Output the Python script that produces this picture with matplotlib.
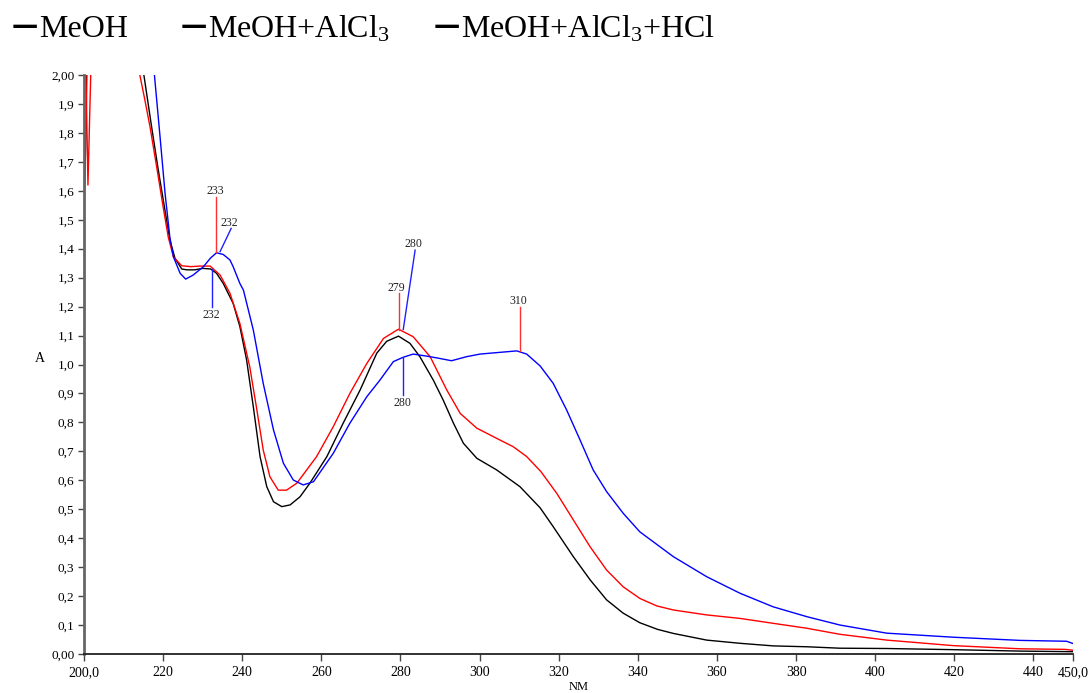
import matplotlib
matplotlib.use("Agg")
import matplotlib.pyplot as plt

plt.rcParams['font.family'] = ['Liberation Serif', 'DejaVu Serif']
plt.rcParams['mathtext.fontset'] = 'custom'
plt.rcParams['mathtext.rm'] = 'Liberation Serif'
plt.rcParams['mathtext.it'] = 'Liberation Serif:italic'
plt.rcParams['mathtext.bf'] = 'Liberation Serif:bold'

# ---- data (wavelength nm, absorbance) ----
meoh_x = [200.0, 200.5, 200.8, 214.0, 215.2, 217.1, 218.8, 220.5, 221.7, 223.0, 224.7, 226.0,
          228.0, 230.0, 232.0, 233.5, 235.2, 237.7, 239.4, 241.1, 242.8, 244.5, 246.2, 247.9,
          250.0, 252.1, 254.6, 257.1, 261.4, 265.5, 269.8, 274.0, 276.5, 279.5, 282.4, 284.9,
          288.3, 290.8, 293.4, 295.9, 299.3, 304.3, 310.2, 315.3, 318.6, 323.7, 328.0, 332.1,
          336.3, 340.5, 345.0, 349.0, 357.4, 365.8, 374.2, 382.7, 391.1, 402.9, 419.7, 436.6, 450.0]
meoh_y = [1.52, 1.80, 2.10, 2.10, 1.994, 1.82, 1.67, 1.53, 1.43, 1.367, 1.330, 1.327,
          1.327, 1.332, 1.330, 1.315, 1.28, 1.211, 1.131, 1.016, 0.854, 0.682, 0.578, 0.526,
          0.509, 0.515, 0.543, 0.590, 0.682, 0.797, 0.912, 1.039, 1.080, 1.098, 1.073, 1.027,
          0.946, 0.877, 0.797, 0.728, 0.676, 0.636, 0.578, 0.505, 0.440, 0.336, 0.255, 0.187,
          0.141, 0.108, 0.085, 0.071, 0.048, 0.037, 0.028, 0.025, 0.020, 0.019, 0.015, 0.010, 0.008]

alcl3_x = [200.2, 200.5, 201.0, 201.7, 202.0, 212.9, 214.2, 215.4, 216.7, 218.4, 220.0, 221.3,
           222.6, 224.7, 227.0, 229.3, 231.9, 234.4, 236.9, 239.4, 241.9, 243.7, 245.3, 247.0,
           249.1, 251.2, 253.8, 258.8, 263.0, 267.2, 271.5, 275.7, 279.5, 283.2, 287.5, 291.7,
           295.1, 299.3, 304.3, 308.5, 311.9, 315.5, 319.5, 323.7, 327.9, 332.1, 336.3, 340.5,
           344.8, 349.0, 357.4, 365.8, 374.2, 382.7, 391.1, 402.9, 419.7, 436.6, 448.0, 450.0]
alcl3_y = [2.30, 2.00, 1.62, 2.00, 2.30, 2.10, 1.994, 1.913, 1.82, 1.68, 1.545, 1.44,
           1.372, 1.341, 1.338, 1.340, 1.340, 1.309, 1.246, 1.142, 0.992, 0.843, 0.705, 0.612,
           0.566, 0.566, 0.590, 0.682, 0.785, 0.900, 1.004, 1.090, 1.122, 1.096, 1.027, 0.912,
           0.831, 0.780, 0.745, 0.716, 0.682, 0.630, 0.555, 0.463, 0.371, 0.290, 0.232, 0.192,
           0.166, 0.152, 0.135, 0.123, 0.106, 0.089, 0.068, 0.048, 0.029, 0.018, 0.016, 0.013]

hcl_x = [200.0, 217.2, 217.8, 219.2, 220.5, 221.7, 222.6, 224.3, 225.7, 227.6, 230.2, 232.0,
         233.5, 235.2, 236.9, 237.7, 239.4, 240.3, 242.8, 245.3, 247.9, 250.4, 252.9, 255.4,
         258.0, 263.0, 267.2, 271.5, 274.8, 278.2, 280.7, 283.2, 286.6, 289.5, 292.9, 296.7,
         300.1, 304.3, 309.4, 311.9, 315.3, 318.6, 322.0, 325.4, 328.7, 332.1, 336.3, 340.5,
         349.0, 357.4, 365.8, 374.2, 382.7, 391.1, 402.9, 419.7, 436.6, 448.4, 450.0]
hcl_y = [2.15, 2.10, 2.00, 1.79, 1.59, 1.44, 1.372, 1.315, 1.295, 1.309, 1.338, 1.368,
         1.386, 1.380, 1.361, 1.338, 1.280, 1.257, 1.119, 0.935, 0.774, 0.659, 0.601, 0.584,
         0.595, 0.693, 0.797, 0.889, 0.946, 1.010, 1.025, 1.036, 1.029, 1.022, 1.013, 1.027,
         1.036, 1.041, 1.047, 1.036, 0.995, 0.935, 0.843, 0.739, 0.636, 0.561, 0.486, 0.422,
         0.336, 0.267, 0.210, 0.163, 0.129, 0.100, 0.072, 0.058, 0.047, 0.044, 0.036]

series_labels = ["MeOH", "MeOH+AlCl$_3$", "MeOH+AlCl$_3$+HCl"]
series_colors = ["black", "#ff0000", "#0000ff"]

x_ticks = [200, 220, 240, 260, 280, 300, 320, 340, 360, 380, 400, 420, 440, 450]
x_tick_labels = ["200,0", "220", "240", "260", "280", "300", "320", "340", "360", "380",
                 "400", "420", "440", "450,0"]
y_ticks = [round(0.1 * i, 1) for i in range(21)]
y_tick_labels = ["0,00"] + ["%d,%d" % (int(v), round(v * 10) % 10) for v in y_ticks[1:-1]] + ["2,00"]

# annotations: (label, color, line pts (x0,y0,x1,y1), text pos)
annots = [
    ("233", "#ff3030", (233.4, 1.39, 233.4, 1.58), (233.1, 1.60)),
    ("232", "#2020ff", (234.4, 1.39, 237.2, 1.47), (236.7, 1.49)),
    ("232", "#2020ff", (232.4, 1.33, 232.4, 1.20), (232.3, 1.171)),
    ("279", "#ff3030", (279.5, 1.12, 279.5, 1.246), (279.0, 1.263)),
    ("280", "#2020ff", (280.7, 1.121, 283.7, 1.395), (283.4, 1.416)),
    ("280", "#2020ff", (280.7, 1.024, 280.7, 0.895), (280.6, 0.866)),
    ("310", "#ff3030", (310.2, 1.048, 310.2, 1.20), (309.8, 1.219)),
]

fig = plt.figure(figsize=(10.92, 6.93), dpi=100)
ax = fig.add_axes([84 / 1092, 39 / 693, (1073 - 84) / 1092, (654 - 75) / 693])

for xs, ys, c in [(meoh_x, meoh_y, series_colors[0]),
                  (alcl3_x, alcl3_y, series_colors[1]),
                  (hcl_x, hcl_y, series_colors[2])]:
    ax.plot(xs, ys, color=c, lw=1.0)

for lab, c, (x0, y0, x1, y1), (tx, ty) in annots:
    ax.plot([x0, x1], [y0, y1], color=c, lw=1.0)
    ax.text(tx, ty, lab, ha='center', va='center', fontsize=8.5, color='#222222')

ax.set_xlim(200, 450)
ax.set_ylim(0, 2.0)
ax.set_xticks(x_ticks)
ax.set_xticklabels(x_tick_labels, fontsize=10)
ax.set_yticks(y_ticks)
ax.set_yticklabels(y_tick_labels, fontsize=9.5)
ax.spines['top'].set_visible(False)
ax.spines['right'].set_visible(False)
ax.spines['left'].set_color('#666666')
ax.spines['left'].set_linewidth(2.0)
ax.spines['bottom'].set_color('#222222')
ax.spines['bottom'].set_linewidth(1.3)
ax.tick_params(axis='y', length=4, width=1, color='#444444', pad=3)
ax.tick_params(axis='x', length=5, width=1, color='#444444', pad=4)
ax.set_xlabel("NM", fontsize=9, labelpad=1)
ax.set_ylabel("A", fontsize=10, rotation=0, labelpad=12)
ax.yaxis.set_label_coords(-0.045, 0.50)

legend_x = [12, 181, 434]
for lx, lab in zip(legend_x, series_labels):
    fig.text(lx / 1092, 1 - 34 / 693, "\u2014", fontsize=19, fontweight='bold',
             family=['DejaVu Sans'], ha='left', va='baseline', color='black')
    fig.text((lx + 27) / 1092, 1 - 37 / 693, lab, fontsize=23, ha='left', va='baseline',
             color='black')

fig.savefig("out.png", dpi=100)
